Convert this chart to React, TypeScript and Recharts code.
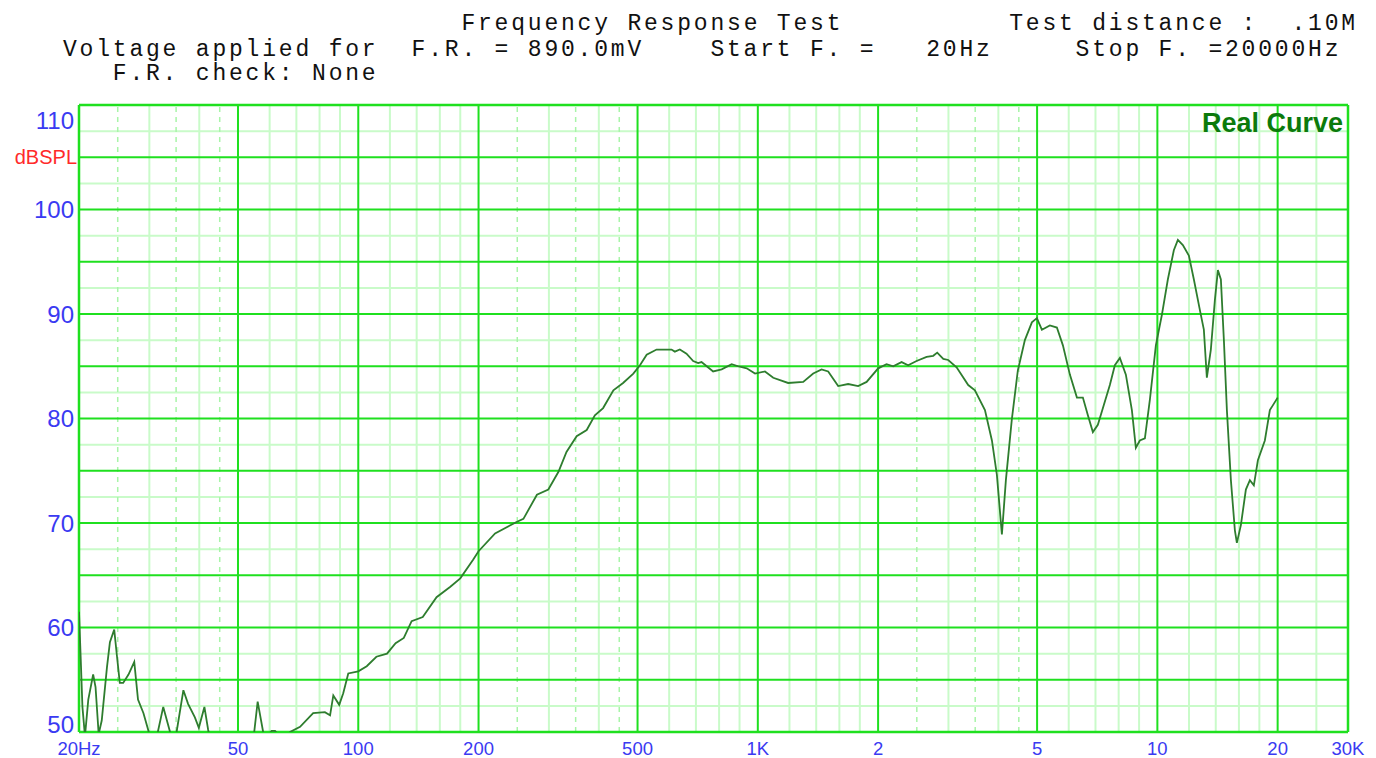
import React from 'react';
import { LineChart, Line, XAxis, YAxis, ReferenceLine } from 'recharts';

const freqHz = [
  20, 20.2, 20.4, 20.7, 21.1, 21.7, 22.0, 22.4, 22.8, 23.5,
  23.9, 24.5, 24.9, 25.3, 25.8, 26.6, 27.5, 28.1, 29.0, 29.9,
  30.8, 31.5, 32.5, 33.8, 34.4, 35.1, 36.5, 37.5, 39.0, 39.9,
  41.2, 42.1, 43.0, 47, 52, 54.9, 56.0, 57.8, 58.8, 60.7,
  61.9, 64, 66.3, 67.5, 71.5, 77.1, 82.5, 85.0, 86.6, 89.6,
  91.7, 94.4, 100, 105, 111, 118, 124, 130, 136, 145,
  157, 170, 180, 194, 200, 220, 249, 259, 280, 299,
  317, 332, 352, 373, 391, 410, 435, 460, 488, 507,
  527, 558, 608, 620, 638, 663, 689, 709, 723, 745,
  773, 812, 860, 893, 938, 984, 1042, 1093, 1191, 1299,
  1376, 1444, 1500, 1589, 1683, 1783, 1872, 2001, 2100, 2182,
  2290, 2378, 2496, 2645, 2748, 2812, 2912, 2996, 3144, 3362,
  3494, 3702, 3854, 3966, 4082, 4177, 4322, 4475, 4660, 4852,
  4994, 5140, 5382, 5604, 5802, 6040, 6290, 6510, 6700, 6896,
  7096, 7345, 7605, 7828, 8057, 8340, 8634, 8834, 9040, 9306,
  9578, 9914, 10262, 10622, 10996, 11254, 11582, 11990, 12342, 12774,
  13072, 13300, 13610, 13928, 14174, 14420, 14672, 14928, 15276, 15632,
  15812, 16182, 16654, 17042, 17438, 17848, 18580, 19124, 20000,
];

const splDb = [
  61.5, 57.0, 52.4, 49.6, 53.1, 55.5, 54.3, 49.8, 51.1, 56.2,
  58.6, 59.8, 57.2, 54.7, 54.7, 55.5, 56.7, 53.1, 51.8, 50.0,
  48.5, 50.0, 52.4, 50.0, 48.8, 50.0, 54.0, 52.7, 51.4, 50.4,
  52.4, 50.2, 48.5, 47.5, 48.0, 50.0, 52.9, 50.0, 49.5, 50.1,
  50.1, 49.5, 49.6, 50.0, 50.5, 51.8, 51.9, 51.6, 53.5, 52.6,
  53.7, 55.6, 55.8, 56.3, 57.2, 57.5, 58.5, 59.0, 60.6, 61.0,
  62.9, 63.9, 64.7, 66.5, 67.3, 69.0, 70.1, 70.4, 72.7, 73.2,
  74.9, 76.8, 78.3, 78.9, 80.3, 81.0, 82.7, 83.4, 84.3, 85.1,
  86.1, 86.6, 86.6, 86.4, 86.6, 86.2, 85.5, 85.3, 85.4, 85.0,
  84.5, 84.7, 85.2, 85.0, 84.8, 84.3, 84.5, 83.9, 83.4, 83.5,
  84.3, 84.7, 84.5, 83.1, 83.3, 83.1, 83.5, 84.8, 85.2, 85.0,
  85.4, 85.1, 85.5, 85.9, 86.0, 86.3, 85.7, 85.6, 84.9, 83.2,
  82.7, 80.8, 77.9, 74.6, 68.9, 74.1, 79.9, 84.6, 87.5, 89.2,
  89.6, 88.5, 88.9, 88.7, 87.0, 84.2, 82.0, 82.0, 80.3, 78.7,
  79.4, 81.3, 83.2, 85.1, 85.8, 84.2, 80.8, 77.2, 77.9, 78.1,
  81.8, 87.0, 89.9, 93.3, 96.1, 97.1, 96.6, 95.6, 93.3, 90.4,
  88.5, 83.9, 86.6, 91.3, 94.2, 93.3, 87.5, 80.8, 74.1, 69.3,
  68.1, 69.8, 73.2, 74.1, 73.6, 76.0, 77.9, 80.8, 82.0,
];

// axis ticks
const xTicks = [20, 50, 100, 200, 500, 1000, 2000, 5000, 10000, 20000, 30000];
const xTickLabels = ['20Hz', '50', '100', '200', '500', '1K', '2', '5', '10', '20', '30K'];
const yTicks = [50, 60, 70, 80, 90, 100, 110];

// grid
const majorFreqs = [50, 100, 200, 500, 1000, 2000, 5000, 10000, 20000];
const minorFreqs = [
  30, 40, 60, 70, 80, 90, 120, 140, 160, 180, 300, 400, 600, 700, 800, 900,
  1200, 1400, 1600, 1800, 3000, 4000, 6000, 7000, 8000, 9000,
  12000, 14000, 16000, 18000, 25000,
];
const dashedFreqs = [25, 35, 45, 250, 350, 450, 2500, 3500, 4500];
const majorDb = [55, 60, 65, 70, 75, 80, 85, 90, 95, 100, 105];
const minorDb = [52.5, 57.5, 62.5, 67.5, 72.5, 77.5, 82.5, 87.5, 92.5, 97.5, 102.5, 107.5];

// header text: [text, column, row]
const headerCells: [string, number, number][] = [
  ['Frequency Response Test', 24, 0],
  ['Test distance :  .10M', 57, 0],
  ['Voltage applied for', 0, 1],
  ['F.R. = 890.0mV', 21, 1],
  ['Start F. =', 39, 1],
  ['20Hz', 52, 1],
  ['Stop F. =20000Hz', 61, 1],
  ['F.R. check: None', 3, 2],
];
const headerRowY = [30, 56, 80];

const data = freqHz.map((f, i) => ({ f, spl: splDb[i] }));

const MAJOR = '#1fe01f';
const MINOR = '#c9fbc9';
const DASHED = '#a8f5a8';
const LABEL_BLUE = '#3a3af2';

const YTick = (props: any) => {
  const { y, payload } = props;
  const v = payload.value;
  const dy = v === 110 ? 24 : v === 50 ? 1 : 8.5;
  return (
    <text x={74} y={y + dy} textAnchor="end" fill={LABEL_BLUE}
      fontFamily="'Liberation Sans', Arial, sans-serif" fontSize={24}>
      {v}
    </text>
  );
};

const XTick = (props: any) => {
  const { x, payload } = props;
  const idx = xTicks.indexOf(payload.value);
  return (
    <text x={x} y={755} textAnchor="middle" fill={LABEL_BLUE}
      fontFamily="'Liberation Sans', Arial, sans-serif" fontSize={18.5}>
      {xTickLabels[idx]}
    </text>
  );
};

const mono = {
  fontFamily: "'Liberation Mono', 'Courier New', monospace",
  fontSize: 23,
  letterSpacing: 2.8,
  whiteSpace: 'pre' as const,
};

export default function App() {
  return (
    <div style={{ position: 'absolute', left: 0, top: 0, width: 1376, height: 758, background: '#fff' }}>
      <LineChart width={1376} height={758} data={data}
        margin={{ top: 105, right: 28, bottom: 0, left: 0 }}>
        <XAxis dataKey="f" type="number" scale="log" domain={[20, 30000]} ticks={xTicks}
          tick={<XTick />} axisLine={false} tickLine={false} height={26} allowDataOverflow interval={0} />
        <YAxis type="number" domain={[50, 110]} ticks={yTicks} width={79}
          tick={<YTick />} axisLine={false} tickLine={false} allowDataOverflow interval={0} />

        {minorDb.map((v) => (
          <ReferenceLine key={'hy' + v} y={v} stroke={MINOR} strokeWidth={2} />
        ))}
        {minorFreqs.map((v) => (
          <ReferenceLine key={'mx' + v} x={v} stroke={MINOR} strokeWidth={2} />
        ))}
        {dashedFreqs.map((v) => (
          <ReferenceLine key={'dx' + v} x={v} stroke={DASHED} strokeWidth={1.5} strokeDasharray="5 5" />
        ))}
        {majorDb.map((v) => (
          <ReferenceLine key={'My' + v} y={v} stroke={MAJOR} strokeWidth={2} />
        ))}
        {majorFreqs.map((v) => (
          <ReferenceLine key={'Mx' + v} x={v} stroke={MAJOR} strokeWidth={2} />
        ))}
        {/* frame */}
        <ReferenceLine x={20} stroke={MAJOR} strokeWidth={2.5} />
        <ReferenceLine x={30000} stroke={MAJOR} strokeWidth={2.5} />
        <ReferenceLine y={50} stroke={MAJOR} strokeWidth={2.5} />
        <ReferenceLine y={110} stroke={MAJOR} strokeWidth={2.5} />

        <Line type="linear" dataKey="spl" stroke="#2e7d2e" strokeWidth={1.8}
          dot={false} activeDot={false} isAnimationActive={false} />
      </LineChart>

      <svg width={1376} height={758} style={{ position: 'absolute', left: 0, top: 0, pointerEvents: 'none' }}>
        {headerCells.map(([t, col, row]) => (
          <text key={t} x={63 + col * 16.6} y={headerRowY[row]} fill="#111" style={mono}>{t}</text>
        ))}
        <text x={77} y={164} textAnchor="end" fill="#ff2a2a"
          fontFamily="'Liberation Sans', Arial, sans-serif" fontSize={20}>dBSPL</text>
        <text x={1343} y={132} textAnchor="end" fill="#0b7a0b" fontWeight="bold"
          fontFamily="'Liberation Sans', Arial, sans-serif" fontSize={27}>Real Curve</text>
      </svg>
    </div>
  );
}
